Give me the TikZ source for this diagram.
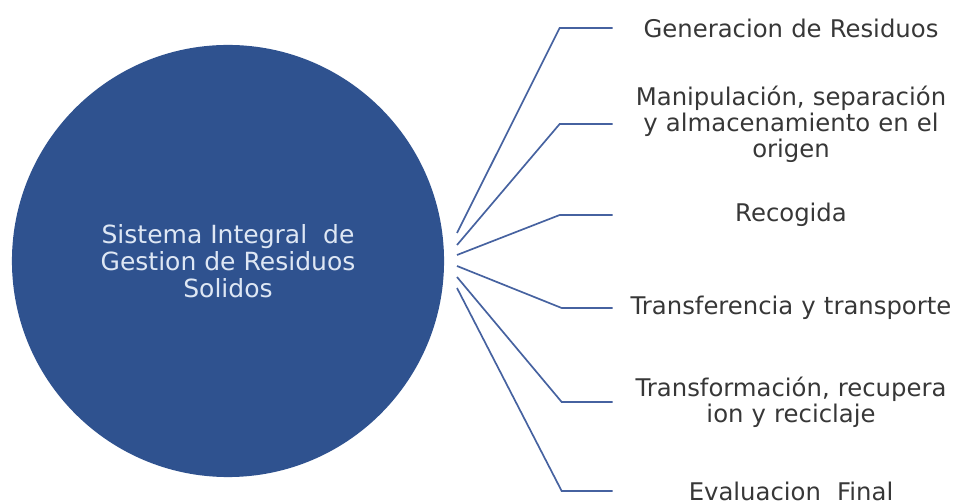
\documentclass[tikz,border=0pt]{standalone}
\usepackage{fontspec}
\setmainfont{DejaVu Sans}
\usepackage{tikz}
\usetikzlibrary{positioning}
\definecolor{hubblue}{RGB}{47,82,143}
\definecolor{hubtext}{RGB}{222,231,244}
\definecolor{linkblue}{RGB}{70,98,160}
\definecolor{labelgray}{RGB}{55,55,55}

\begin{document}
\begin{tikzpicture}[x=0.025cm, y=-0.025cm,
  hub/.style={circle, fill=hubblue, draw=none, inner sep=0pt, minimum size=10.8cm,
              text=hubtext, align=center, font=\fontsize{17.8}{19.2}\selectfont},
  stage/.style={align=center, inner sep=0pt, text width=8.9cm,
                text=labelgray, font=\fontsize{17.3}{18.5}\selectfont},
  link/.style={draw=linkblue, line width=1.2pt}]
  \useasboundingbox (0,0) rectangle (963,504);

  \node[hub] (sis) at (228,261) {Sistema Integral\ \ de\\Gestion de Residuos\\Solidos};

  \node[stage] (gen)    at (791,28)  {Generacion de Residuos};
  \node[stage] (mani)   at (791,124) {Manipulación, separación\\y almacenamiento en el\\origen};
  \node[stage] (rec)    at (791,215) {Recogida};
  \node[stage] (trans)  at (791,308) {Transferencia y transporte};
  \node[stage] (transf) at (791,402) {Transformación, recupera\\ion y reciclaje};
  \node[stage] (eval)   at (791,491) {Evaluacion\ \ Final};

  \coordinate (f1) at (457,233);
  \coordinate (f2) at (457,245);
  \coordinate (f3) at (457,255);
  \coordinate (f4) at (457,266);
  \coordinate (f5) at (457,277);
  \coordinate (f6) at (457,288);

  \draw[link] (gen.west)    -- ++(-53,0) -- (f1);
  \draw[link] (mani.west)   -- ++(-53,0) -- (f2);
  \draw[link] (rec.west)    -- ++(-53,0) -- (f3);
  \draw[link] (trans.west)  -- ++(-51,0) -- (f4);
  \draw[link] (transf.west) -- ++(-51,0) -- (f5);
  \draw[link] (eval.west)   -- ++(-51,0) -- (f6);
\end{tikzpicture}
\end{document}
